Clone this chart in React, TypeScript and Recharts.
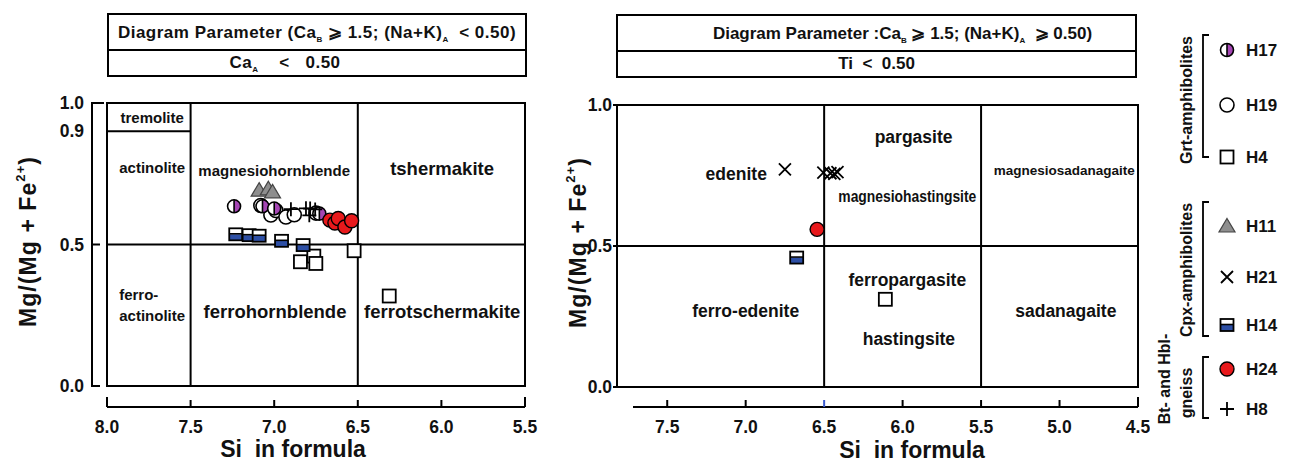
import React from "react";
import { ScatterChart, Scatter, XAxis, YAxis, ReferenceLine, ReferenceArea } from "recharts";

const FONT = "'Liberation Sans', Arial, Helvetica, sans-serif";
const NARROW = "'Liberation Sans Narrow', 'Liberation Sans', Arial, sans-serif";

const PURPLE = "#a546b4";
const BLUE = "#2d4fa5";
const RED = "#e8191c";
const GREY = "#8e8e8e";

type Pt = { x: number; y: number };
type Lbl = { x: number; y: number; text: string };

// ---- left diagram: (Na+K)A < 0.50, CaA < 0.50 ----
const leftH17: Pt[] = [
  { x: 7.24, y: 0.635 },
  { x: 7.07, y: 0.635 },
  { x: 7.0, y: 0.627 },
  { x: 6.73, y: 0.609 },
];
const leftH19: Pt[] = [
  { x: 7.08, y: 0.638 },
  { x: 7.02, y: 0.604 },
  { x: 6.99, y: 0.62 },
  { x: 6.93, y: 0.597 },
  { x: 6.88, y: 0.605 },
  { x: 6.75, y: 0.611 },
];
const leftH11: Pt[] = [
  { x: 7.09, y: 0.692 },
  { x: 7.035, y: 0.697 },
  { x: 7.01, y: 0.686 },
];
const leftH8: Pt[] = [
  { x: 6.9, y: 0.625 },
  { x: 6.81, y: 0.628 },
  { x: 6.785, y: 0.627 },
  { x: 6.755, y: 0.624 },
  { x: 6.79, y: 0.603 },
];
const leftH24: Pt[] = [
  { x: 6.667, y: 0.586 },
  { x: 6.637, y: 0.576 },
  { x: 6.617, y: 0.592 },
  { x: 6.577, y: 0.562 },
  { x: 6.537, y: 0.584 },
];
const leftH14: Pt[] = [
  { x: 7.23, y: 0.536 },
  { x: 7.15, y: 0.533 },
  { x: 7.09, y: 0.531 },
  { x: 6.956, y: 0.513 },
  { x: 6.827, y: 0.498 },
];
const leftH4: Pt[] = [
  { x: 6.522, y: 0.478 },
  { x: 6.843, y: 0.439 },
  { x: 6.763, y: 0.459 },
  { x: 6.751, y: 0.433 },
  { x: 6.312, y: 0.318 },
];

// ---- right diagram: (Na+K)A >= 0.50, Ti < 0.50 ----
const rightH21: Pt[] = [
  { x: 6.75, y: 0.772 },
  { x: 6.505, y: 0.76 },
  { x: 6.46, y: 0.758 },
  { x: 6.435, y: 0.756 },
  { x: 6.415, y: 0.762 },
];
const rightH24: Pt[] = [{ x: 6.545, y: 0.559 }];
const rightH14: Pt[] = [{ x: 6.675, y: 0.459 }];
const rightH4: Pt[] = [{ x: 6.11, y: 0.311 }];

// field names
const leftLabels: Lbl[] = [
  { x: 7.73, y: 0.949, text: "tremolite" },
  { x: 7.73, y: 0.773, text: "actinolite" },
  { x: 7.0, y: 0.763, text: "magnesiohornblende" },
  { x: 5.996, y: 0.767, text: "tshermakite" },
  { x: 7.81, y: 0.322, text: "ferro-" },
  { x: 7.73, y: 0.248, text: "actinolite" },
  { x: 6.995, y: 0.265, text: "ferrohornblende" },
  { x: 5.995, y: 0.263, text: "ferrotschermakite" },
];
const rightLabels: Lbl[] = [
  { x: 5.93, y: 0.888, text: "pargasite" },
  { x: 7.06, y: 0.754, text: "edenite" },
  { x: 5.97, y: 0.676, text: "magnesiohastingsite" },
  { x: 4.97, y: 0.768, text: "magnesiosadanagaite" },
  { x: 5.97, y: 0.378, text: "ferropargasite" },
  { x: 7.0, y: 0.268, text: "ferro-edenite" },
  { x: 5.96, y: 0.17, text: "hastingsite" },
  { x: 4.96, y: 0.268, text: "sadanagaite" },
];
const labelSize: Record<string, number> = {
  tremolite: 15,
  actinolite: 15,
  magnesiohornblende: 15,
  tshermakite: 18.5,
  "ferro-": 15,
  ferrohornblende: 18.5,
  ferrotschermakite: 18.5,
  pargasite: 17.5,
  edenite: 17.5,
  ferropargasite: 17.5,
  "ferro-edenite": 17.5,
  hastingsite: 17.5,
  sadanagaite: 17.5,
  magnesiohastingsite: 16,
  magnesiosadanagaite: 13.5,
};
const narrowWidth: Record<string, number> = {
  magnesiohastingsite: 138,
};

// field boundaries
const leftSiLines = [7.5, 6.5];
const rightSiLines = [6.5, 5.5];
const mgLine = 0.5;
const tremoliteLine = 0.9;

const leftTicksX = [8.0, 7.5, 7.0, 6.5, 6.0, 5.5];
const leftTicksY = [0, 0.5, 0.9, 1.0];
const rightTicksX = [7.5, 7.0, 6.5, 6.0, 5.5, 5.0, 4.5];
const rightTicksY = [0, 0.5, 1.0];

// geometry helpers (px gaps between the detached axes and the frame)
const L_PX_PER_SI = 418 / 2.5;
const L_PX_PER_Y = 283;
const L_AXIS_Y = -21 / L_PX_PER_Y;
const L_AXIS_X = 8 + 15 / L_PX_PER_SI;
const R_MIN = 4.5;
const R_MAX = 7.82;
const R_PX_PER_SI = 521 / (R_MAX - R_MIN);
const R_AXIS_Y = -20 / 282;
const R_AXIS_START = R_MAX - 16 / R_PX_PER_SI;

const line = { stroke: "#000", strokeWidth: 2, ifOverflow: "visible" as const };

// ---- marker shapes ----
const halfCircle = (p: any) => {
  const { cx, cy } = p;
  const r = 6.5;
  return (
    <g>
      <circle cx={cx} cy={cy} r={r} fill="#fff" />
      <path d={`M${cx},${cy - r} A${r},${r} 0 0 1 ${cx},${cy + r} Z`} fill={PURPLE} />
      <circle cx={cx} cy={cy} r={r} fill="none" stroke="#000" strokeWidth={1.6} />
      <line x1={cx} y1={cy - r} x2={cx} y2={cy + r} stroke="#000" strokeWidth={1.6} />
    </g>
  );
};
const openCircle = (p: any) => (
  <circle cx={p.cx} cy={p.cy} r={7} fill="#fff" stroke="#000" strokeWidth={1.6} />
);
const openSquare = (p: any) => (
  <rect x={p.cx - 6.5} y={p.cy - 6.5} width={13} height={13} fill="#fff" stroke="#000" strokeWidth={1.8} />
);
const greyTriangle = (p: any) => (
  <path
    d={`M${p.cx},${p.cy - 7.5} L${p.cx + 8},${p.cy + 6} L${p.cx - 8},${p.cy + 6} Z`}
    fill={GREY}
    stroke="#444"
    strokeWidth={1.2}
  />
);
const xCross = (p: any) => (
  <path
    d={`M${p.cx - 6},${p.cy - 6} L${p.cx + 6},${p.cy + 6} M${p.cx + 6},${p.cy - 6} L${p.cx - 6},${p.cy + 6}`}
    stroke="#000"
    strokeWidth={1.8}
  />
);
const halfSquare = (p: any) => {
  const { cx, cy } = p;
  return (
    <g>
      <rect x={cx - 6.5} y={cy - 6} width={13} height={12} fill="#fff" />
      <rect x={cx - 6.5} y={cy} width={13} height={6} fill={BLUE} />
      <line x1={cx - 6.5} y1={cy - 0.5} x2={cx + 6.5} y2={cy - 0.5} stroke="#000" strokeWidth={1.6} />
      <rect x={cx - 6.5} y={cy - 6} width={13} height={12} fill="none" stroke="#000" strokeWidth={1.8} />
    </g>
  );
};
const redCircle = (p: any) => (
  <circle cx={p.cx} cy={p.cy} r={7} fill={RED} stroke="#000" strokeWidth={1.4} />
);
const plusCross = (p: any) => (
  <path
    d={`M${p.cx - 7},${p.cy} L${p.cx + 7},${p.cy} M${p.cx},${p.cy - 7} L${p.cx},${p.cy + 7}`}
    stroke="#000"
    strokeWidth={1.8}
  />
);

const fieldLabel = (p: any) => {
  const t: string = p.payload.text;
  const w = narrowWidth[t];
  return (
    <text
      x={p.cx}
      y={p.cy}
      textAnchor="middle"
      dominantBaseline="central"
      fontSize={labelSize[t]}
      fontWeight="bold"
      fontFamily={w ? NARROW : FONT}
      textLength={w}
      lengthAdjust={w ? "spacingAndGlyphs" : undefined}
      fill="#111"
    >
      {t}
    </text>
  );
};

// ---- axes pieces ----
const XTick = (p: any) => {
  const { x, y, payload, ends, blue } = p;
  const v: number = payload.value;
  const isEnd = ends.includes(v);
  return (
    <g>
      <line x1={x} y1={y} x2={x} y2={y - (isEnd ? 10 : 7)} stroke={v === blue ? "#3a5bd0" : "#000"} strokeWidth={2} />
      <text x={x} y={y + 26} textAnchor="middle" fontSize={17.5} fontWeight="bold" fontFamily={FONT} fill="#111">
        {v.toFixed(1)}
      </text>
    </g>
  );
};
const LeftYTick = (p: any) => {
  const { x, y, payload } = p;
  const v: number = payload.value;
  const len = v === 1 ? 12 : v === 0.9 ? 0 : 8;
  return (
    <g>
      {len > 0 && <line x1={x - 1} y1={y} x2={x + len} y2={y} stroke="#000" strokeWidth={2} />}
      <text x={x - 8} y={y} textAnchor="end" dominantBaseline="central" fontSize={17.5} fontWeight="bold" fontFamily={FONT} fill="#111">
        {v.toFixed(1)}
      </text>
    </g>
  );
};
const RightYTick = (p: any) => {
  const { x, y, payload } = p;
  const v: number = payload.value;
  return (
    <g>
      <line x1={x - 4} y1={y} x2={x} y2={y} stroke="#000" strokeWidth={2} />
      <text x={x - 5} y={y} textAnchor="end" dominantBaseline="central" fontSize={17.5} fontWeight="bold" fontFamily={FONT} fill="#111">
        {v.toFixed(1)}
      </text>
    </g>
  );
};
const YTitle = (p: any) => {
  const { px, py, len } = p;
  return (
    <text
      x={px}
      y={py}
      transform={`rotate(-90 ${px} ${py})`}
      textAnchor="middle"
      dominantBaseline="central"
      fontSize={23}
      fontWeight="bold"
      fontFamily={FONT}
      textLength={len}
      fill="#111"
    >
      Mg/(Mg + Fe
      <tspan dy={-8} fontSize={13}>
        2+
      </tspan>
      <tspan dy={8}>)</tspan>
    </text>
  );
};
const XTitle = (p: any) => (
  <text x={p.px} y={p.py} textAnchor="middle" dominantBaseline="central" fontSize={23} fontWeight="bold" fontFamily={FONT} fill="#111">
    Si&#160; in formula
  </text>
);

const sub = { fontSize: 8, verticalAlign: "sub" as const, lineHeight: 0 };

function ParamBox(props: {
  left: number;
  top: number;
  width: number;
  line1: React.ReactNode;
  line2: React.ReactNode;
  shift1: number;
  shift2: number;
  spacing: number;
}) {
  const row = {
    display: "flex",
    alignItems: "center",
    justifyContent: "center",
    fontSize: 17,
    fontWeight: "bold" as const,
    whiteSpace: "pre" as const,
    color: "#111",
    letterSpacing: props.spacing,
  };
  return (
    <div
      style={{
        position: "absolute",
        left: props.left,
        top: props.top,
        width: props.width,
        height: 64,
        border: "2px solid #000",
        boxSizing: "border-box",
        fontFamily: FONT,
      }}
    >
      <div style={{ ...row, height: 34, borderBottom: "2px solid #000", paddingLeft: Math.max(0, props.shift1 * 2), paddingRight: Math.max(0, -props.shift1 * 2) }}>
        {props.line1}
      </div>
      <div style={{ ...row, height: 24, paddingLeft: Math.max(0, props.shift2 * 2), paddingRight: Math.max(0, -props.shift2 * 2) }}>
        {props.line2}
      </div>
    </div>
  );
}

const legendItems = [
  { name: "H17", y: 50, shape: halfCircle },
  { name: "H19", y: 105, shape: openCircle },
  { name: "H4", y: 157, shape: openSquare },
  { name: "H11", y: 226, shape: greyTriangle },
  { name: "H21", y: 277, shape: xCross },
  { name: "H14", y: 325, shape: halfSquare },
  { name: "H24", y: 369, shape: redCircle },
  { name: "H8", y: 409, shape: plusCross },
];
const legendGroups = [
  { top: 35, bottom: 157 },
  { top: 202, bottom: 336 },
  { top: 357, bottom: 418 },
];

function Legend() {
  const txt = { fontSize: 16, fontWeight: "bold" as const, fontFamily: FONT, fill: "#111" };
  return (
    <svg width={156} height={463} style={{ position: "absolute", left: 1140, top: 0 }}>
      {legendGroups.map((g, i) => (
        <path key={i} d={`M69,${g.top} L63,${g.top} L63,${g.bottom} L69,${g.bottom}`} fill="none" stroke="#000" strokeWidth={1.8} />
      ))}
      <text transform="translate(46,100) rotate(-90)" textAnchor="middle" dominantBaseline="central" {...txt}>
        Grt-amphibolites
      </text>
      <text transform="translate(46,270) rotate(-90)" textAnchor="middle" dominantBaseline="central" {...txt}>
        Cpx-amphibolites
      </text>
      <text transform="translate(24,379) rotate(-90)" textAnchor="middle" dominantBaseline="central" {...txt}>
        Bt- and Hbl-
      </text>
      <text transform="translate(46,393) rotate(-90)" textAnchor="middle" dominantBaseline="central" {...txt}>
        gneiss
      </text>
      {legendItems.map((it) => (
        <g key={it.name}>
          {it.shape({ cx: 87, cy: it.y })}
          <text x={106} y={it.y} dominantBaseline="central" {...txt} fontSize={17}>
            {it.name}
          </text>
        </g>
      ))}
    </svg>
  );
}

export default function App() {
  return (
    <div style={{ position: "absolute", left: 0, top: 0, width: 1296, height: 463, background: "#fff", overflow: "hidden" }}>
      <ParamBox
        left={107}
        top={13}
        width={420}
        shift1={0}
        shift2={-32}
        spacing={0.5}
        line1={
          <span>
            Diagram Parameter (Ca<span style={sub}>B</span> ⩾ 1.5; (Na+K)<span style={sub}>A</span>  &lt; 0.50)
          </span>
        }
        line2={
          <span>
            Ca<span style={sub}>A</span>    &lt;   0.50
          </span>
        }
      />
      <ParamBox
        left={616}
        top={14}
        width={521}
        shift1={26}
        shift2={0}
        spacing={0}
        line1={
          <span>
            Diagram Parameter :Ca<span style={sub}>B</span> ⩾ 1.5; (Na+K)<span style={sub}>A</span>  ⩾ 0.50)
          </span>
        }
        line2={<span>Ti  &lt;  0.50</span>}
      />

      <div style={{ position: "absolute", left: 0, top: 90 }}>
        <ScatterChart width={560} height={373} margin={{ top: 13, right: 35, bottom: 0, left: 0 }}>
          <XAxis
            type="number"
            dataKey="x"
            domain={[5.5, 8]}
            reversed
            allowDataOverflow
            ticks={leftTicksX}
            interval={0}
            padding={{ left: 15, right: 0 }}
            axisLine={false}
            tickLine={false}
            tickSize={0}
            tickMargin={0}
            height={56}
            tick={<XTick ends={[8, 5.5]} blue={-1} />}
            label={<XTitle px={293} py={359} />}
          />
          <YAxis
            type="number"
            dataKey="y"
            domain={[0, 1]}
            allowDataOverflow
            ticks={leftTicksY}
            interval={0}
            padding={{ top: 0, bottom: 21 }}
            axisLine={false}
            tickLine={false}
            tickSize={0}
            tickMargin={0}
            width={92}
            tick={<LeftYTick />}
            label={<YTitle px={28} py={152} len={170} />}
          />
          <ReferenceArea x1={8} x2={5.5} y1={0} y2={1} fill="none" stroke="#000" strokeWidth={2} ifOverflow="visible" />
          {leftSiLines.map((si) => (
            <ReferenceLine key={si} segment={[{ x: si, y: 0 }, { x: si, y: 1 }]} {...line} />
          ))}
          <ReferenceLine segment={[{ x: 8, y: mgLine }, { x: 5.5, y: mgLine }]} {...line} />
          <ReferenceLine segment={[{ x: 8, y: tremoliteLine }, { x: 7.5, y: tremoliteLine }]} {...line} />
          <ReferenceLine segment={[{ x: 8, y: L_AXIS_Y }, { x: 5.5, y: L_AXIS_Y }]} {...line} />
          <ReferenceLine segment={[{ x: L_AXIS_X, y: 0 }, { x: L_AXIS_X, y: 1 }]} {...line} />

          <Scatter data={leftLabels} shape={fieldLabel} isAnimationActive={false} />
          <Scatter data={leftH4} shape={openSquare} isAnimationActive={false} />
          <Scatter data={leftH14} shape={halfSquare} isAnimationActive={false} />
          <Scatter data={leftH11} shape={greyTriangle} isAnimationActive={false} />
          <Scatter data={leftH19} shape={openCircle} isAnimationActive={false} />
          <Scatter data={leftH17} shape={halfCircle} isAnimationActive={false} />
          <Scatter data={leftH8} shape={plusCross} isAnimationActive={false} />
          <Scatter data={leftH24} shape={redCircle} isAnimationActive={false} />
        </ScatterChart>
      </div>

      <div style={{ position: "absolute", left: 560, top: 90 }}>
        <ScatterChart width={590} height={373} margin={{ top: 15, right: 12, bottom: 0, left: 0 }}>
          <XAxis
            type="number"
            dataKey="x"
            domain={[R_MIN, R_MAX]}
            reversed
            allowDataOverflow
            ticks={rightTicksX}
            interval={0}
            axisLine={false}
            tickLine={false}
            tickSize={0}
            tickMargin={0}
            height={56}
            tick={<XTick ends={[4.5]} blue={6.5} />}
            label={<XTitle px={352} py={360} />}
          />
          <YAxis
            type="number"
            dataKey="y"
            domain={[0, 1]}
            allowDataOverflow
            ticks={rightTicksY}
            interval={0}
            padding={{ top: 0, bottom: 20 }}
            axisLine={false}
            tickLine={false}
            tickSize={0}
            tickMargin={0}
            width={57}
            tick={<RightYTick />}
            label={<YTitle px={18} py={153} len={170} />}
          />
          <ReferenceArea x1={R_MAX} x2={R_MIN} y1={0} y2={1} fill="none" stroke="#000" strokeWidth={2} ifOverflow="visible" />
          {rightSiLines.map((si) => (
            <ReferenceLine key={si} segment={[{ x: si, y: 0 }, { x: si, y: 1 }]} {...line} />
          ))}
          <ReferenceLine segment={[{ x: R_MAX, y: mgLine }, { x: R_MIN, y: mgLine }]} {...line} />
          <ReferenceLine segment={[{ x: R_AXIS_START, y: R_AXIS_Y }, { x: R_MIN, y: R_AXIS_Y }]} {...line} />

          <Scatter data={rightLabels} shape={fieldLabel} isAnimationActive={false} />
          <Scatter data={rightH4} shape={openSquare} isAnimationActive={false} />
          <Scatter data={rightH14} shape={halfSquare} isAnimationActive={false} />
          <Scatter data={rightH24} shape={redCircle} isAnimationActive={false} />
          <Scatter data={rightH21} shape={xCross} isAnimationActive={false} />
        </ScatterChart>
      </div>

      <Legend />
    </div>
  );
}
